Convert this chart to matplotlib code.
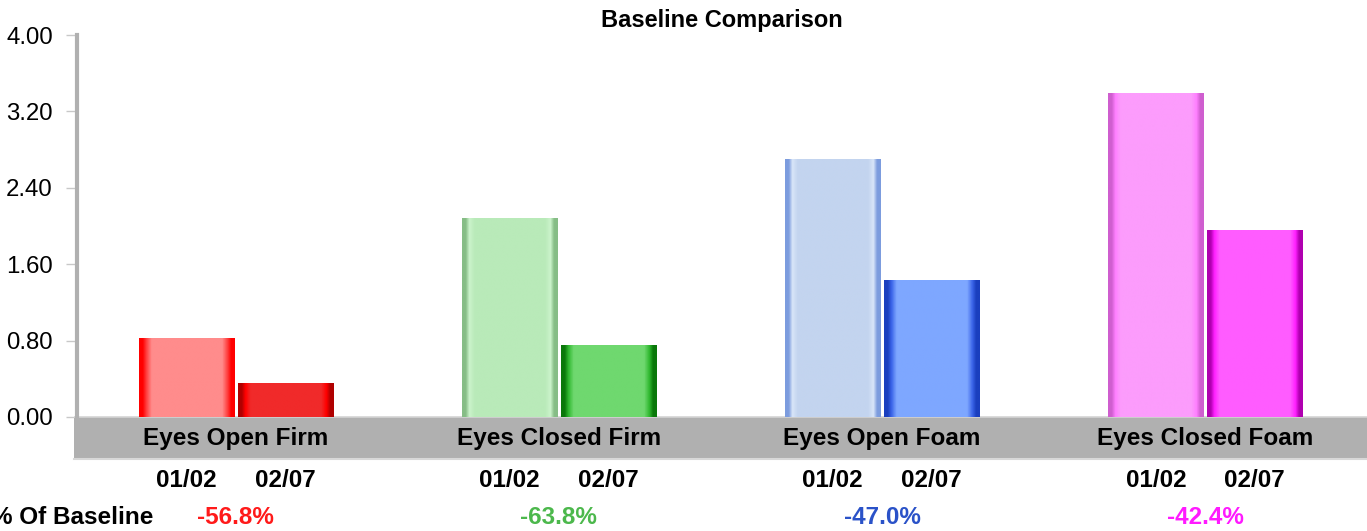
import matplotlib
matplotlib.use("Agg")
import matplotlib.pyplot as plt
import matplotlib.transforms as mtransforms
from matplotlib.colors import LinearSegmentedColormap
import numpy as np

plt.rcParams['font.family'] = ['Liberation Sans', 'DejaVu Sans']

# data
categories = ["Eyes Open Firm", "Eyes Closed Firm", "Eyes Open Foam", "Eyes Closed Foam"]
dates = ["01/02", "02/07"]
baseline = [0.82, 2.08, 2.70, 3.39]
latest = [0.354, 0.753, 1.43, 1.953]
pct_labels = ["-56.8%", "-63.8%", "-47.0%", "-42.4%"]
yticks = [0.0, 0.8, 1.6, 2.4, 3.2, 4.0]

# styles: (fill, edge, accent) per bar
style_first = [("#ff8c8c", "#ff0000", "#ff4040"),
               ("#b9eab9", "#86bd86", "#cbf3cb"),
               ("#c3d4ef", "#7c9cde", "#d8e5f8"),
               ("#fc9cfc", "#cf5ecf", "#ff80ff")]
style_second = [("#f02a2a", "#b00000", "#ff0000"),
                ("#6fd86f", "#0a780a", "#2fb82f"),
                ("#7ea7ff", "#1a3fbf", "#3a64e8"),
                ("#ff5cff", "#b000b0", "#ff20ff")]
pct_colors = ["#ff1a1a", "#4cb84c", "#2a52c8", "#ff1aff"]

fig = plt.figure(figsize=(13.67, 5.31), dpi=100)
ax = fig.add_axes([74 / 1367, 1 - 459 / 531, 1 - 74 / 1367, 424 / 531])

x = np.arange(len(categories))
w = 0.294
off = 0.153

bars1 = ax.bar(x - off, baseline, w, color=[s[0] for s in style_first], zorder=3)
bars2 = ax.bar(x + off, latest, w, color=[s[0] for s in style_second], zorder=3)


def shade(bars, styles):
    # cylinder-like shading across each bar
    for p, (fill, edge, acc) in zip(bars, styles):
        cmap = LinearSegmentedColormap.from_list(
            "b", [(0.0, edge), (0.035, edge), (0.075, acc), (0.13, fill),
                  (0.87, fill), (0.925, acc), (0.965, edge), (1.0, edge)])
        grad = np.linspace(0, 1, 200).reshape(1, -1)
        x0 = p.get_x()
        ax.imshow(grad, cmap=cmap, aspect='auto', zorder=4, interpolation='bilinear',
                  extent=[x0, x0 + p.get_width(), 0, p.get_height()])


shade(bars1, style_first)
shade(bars2, style_second)

ax.set_xlim(-0.5, 3.5)
ax.set_ylim(-0.44, 4.0)

# gray category band
ax.axhspan(-0.44, 0, color="#b0b0b0", zorder=2, lw=0)
ax.axhline(0, color="#d4d4d4", lw=1.2, zorder=2)
ax.axhline(-0.44, color="#d8d8d8", lw=1.5, zorder=2, clip_on=False)

for xi, name in zip(x, categories):
    ax.text(xi, -0.225, name, ha='center', va='center', fontsize=17.5,
            fontweight='bold', zorder=5)

# axes styling
for s in ['top', 'right', 'bottom']:
    ax.spines[s].set_visible(False)
ax.spines['left'].set_bounds(0, 4.0)
ax.spines['left'].set_color("#b0b0b0")
ax.spines['left'].set_linewidth(3)
ax.spines['left'].set_position(('axes', 3 / 1293))
ax.set_yticks(yticks)
ax.set_yticklabels([f"{v:.2f}" for v in yticks], fontsize=17.3)
ax.tick_params(axis='y', length=8, width=1, color="#c8c8c8", pad=9.4)

pos = np.concatenate([x - off, x + off])
ax.set_xticks(pos)
ax.set_xticklabels([dates[0]] * len(x) + [dates[1]] * len(x), fontsize=17.5,
                   fontweight='bold')
ax.tick_params(axis='x', length=0, pad=7)

# title and percentage row
fig.text(722 / 1367, 1 - 21 / 531, "Baseline Comparison", ha='center', va='center',
         fontsize=17, fontweight='bold')
fig.text(153 / 1367, 1 - 517 / 531, "% Of Baseline", ha='right', va='center',
         fontsize=17.5, fontweight='bold')
trans = mtransforms.blended_transform_factory(ax.transData, fig.transFigure)
for xi, lab, c in zip(x, pct_labels, pct_colors):
    ax.text(xi, 1 - 517 / 531, lab, transform=trans, ha='center', va='center',
            fontsize=17.5, fontweight='bold', color=c, clip_on=False)

fig.savefig("out.png", dpi=100)
